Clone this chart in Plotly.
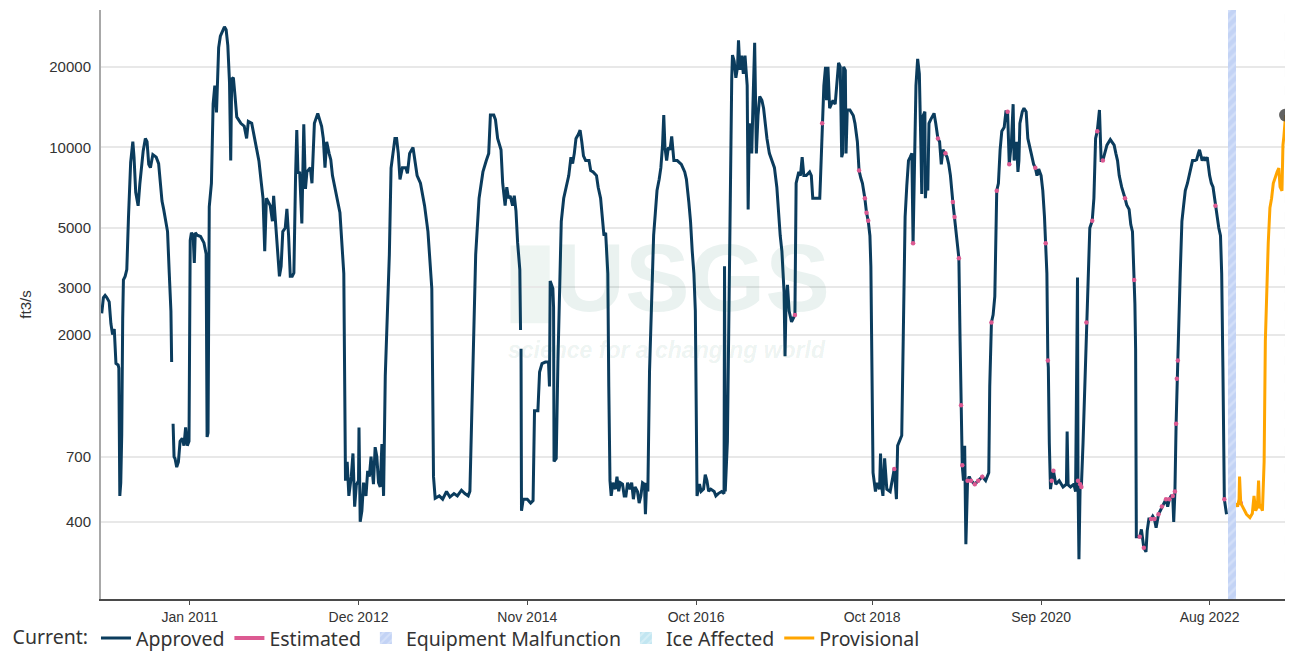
import plotly.graph_objects as go
import pandas as pd

# ---------------- data (ft3/s) ----------------
approved_2010 = [
    ("2010-01-01", 2400), ("2010-01-08", 2750), ("2010-01-15", 2800), ("2010-01-22", 2750),
    ("2010-02-01", 2650), ("2010-02-08", 2200), ("2010-02-15", 2000), ("2010-02-22", 2100),
    ("2010-03-01", 1560), ("2010-03-10", 1540), ("2010-03-13", 1500), ("2010-03-17", 500),
    ("2010-03-21", 560), ("2010-03-25", 850), ("2010-03-29", 2300), ("2010-04-01", 3200),
    ("2010-04-08", 3300), ("2010-04-15", 3500), ("2010-04-22", 5500), ("2010-05-01", 8800),
    ("2010-05-10", 10500), ("2010-05-15", 9200), ("2010-05-22", 6800), ("2010-06-01", 6050),
    ("2010-06-08", 7300), ("2010-06-15", 8650), ("2010-06-22", 9700), ("2010-07-01", 10800),
    ("2010-07-08", 10500), ("2010-07-15", 8650), ("2010-07-22", 8400), ("2010-08-01", 9400),
    ("2010-08-15", 9200), ("2010-08-25", 8700), ("2010-09-01", 7350), ("2010-09-08", 6300),
    ("2010-09-15", 5870), ("2010-09-22", 5400), ("2010-10-01", 4850), ("2010-10-08", 3400),
    ("2010-10-15", 2450), ("2010-10-18", 1580), ("2010-10-21", None), ("2010-10-24", 930),
    ("2010-10-28", 700), ("2010-11-01", 690), ("2010-11-08", 640), ("2010-11-15", 670),
    ("2010-11-22", 800), ("2010-12-01", 820), ("2010-12-08", 770), ("2010-12-15", 900),
    ("2010-12-22", 770), ("2010-12-29", 800),
]
approved_2011 = [
    ("2011-01-03", 4500), ("2011-01-08", 4800), ("2011-01-15", 4700), ("2011-01-20", 3700),
    ("2011-01-24", 4800), ("2011-02-01", 4700), ("2011-02-15", 4650), ("2011-03-01", 4400),
    ("2011-03-10", 4000), ("2011-03-14", 830), ("2011-03-18", 860), ("2011-03-23", 6000),
    ("2011-04-01", 7350), ("2011-04-08", 14500), ("2011-04-15", 17000), ("2011-04-22", 13500),
    ("2011-05-01", 23600), ("2011-05-08", 26000), ("2011-05-15", 26800), ("2011-05-25", 28200),
    ("2011-06-01", 27500), ("2011-06-08", 24000), ("2011-06-15", 17500), ("2011-06-20", 8930),
    ("2011-06-24", 18000), ("2011-07-01", 18200), ("2011-07-08", 15500), ("2011-07-15", 13000),
    ("2011-08-01", 12300), ("2011-08-15", 12000), ("2011-08-25", 10800), ("2011-09-01", 12500),
    ("2011-09-15", 12300), ("2011-10-01", 10500), ("2011-10-15", 8900), ("2011-10-25", 7350),
    ("2011-11-01", 6460), ("2011-11-08", 4100), ("2011-11-15", 6460), ("2011-12-01", 6060),
    ("2011-12-10", 5300), ("2011-12-15", 6600), ("2011-12-22", 5300),
]
approved_2012 = [
    ("2012-01-01", 3980), ("2012-01-08", 3300), ("2012-01-15", 3600), ("2012-01-22", 4850),
    ("2012-02-01", 5000), ("2012-02-08", 5900), ("2012-02-15", 4680), ("2012-02-22", 3300),
    ("2012-03-01", 3300), ("2012-03-08", 3400), ("2012-03-15", 7850), ("2012-03-20", 11600),
    ("2012-03-25", 8000), ("2012-04-01", 8100), ("2012-04-10", 5200), ("2012-04-18", 12200),
    ("2012-04-25", 7000), ("2012-05-01", 8100), ("2012-05-15", 8400), ("2012-05-22", 7350),
    ("2012-06-01", 12300), ("2012-06-15", 13400), ("2012-07-01", 12000), ("2012-07-08", 10800),
    ("2012-07-15", 8400), ("2012-07-22", 10500), ("2012-08-01", 9500), ("2012-08-08", 9000),
    ("2012-08-15", 7850), ("2012-09-01", 6460), ("2012-09-15", 5700), ("2012-10-01", 3380),
    ("2012-10-08", 570), ("2012-10-15", 670), ("2012-10-22", 500), ("2012-11-01", 590),
    ("2012-11-08", 720), ("2012-11-15", 456), ("2012-11-22", 550), ("2012-12-01", 570),
    ("2012-12-03", 900), ("2012-12-08", 400), ("2012-12-15", 440), ("2012-12-22", 560),
]
approved_2013 = [
    ("2013-01-01", 500), ("2013-01-08", 620), ("2013-01-15", 590), ("2013-01-22", 700),
    ("2013-02-01", 553), ("2013-02-08", 760), ("2013-02-15", 700), ("2013-02-22", 560),
    ("2013-03-01", 540), ("2013-03-08", 780), ("2013-03-15", 500), ("2013-03-22", 1400),
    ("2013-04-01", 2450), ("2013-04-08", 4000), ("2013-04-15", 8370), ("2013-04-22", 9200),
    ("2013-05-01", 10800), ("2013-05-08", 10800), ("2013-05-15", 9500), ("2013-05-22", 7600),
    ("2013-06-01", 8400), ("2013-06-15", 8400), ("2013-06-22", 8000), ("2013-07-01", 9500),
    ("2013-07-15", 10000), ("2013-08-01", 7850), ("2013-08-15", 7350), ("2013-09-01", 6060),
    ("2013-09-15", 4850), ("2013-10-01", 2970), ("2013-10-04", 1280), ("2013-10-08", 590),
    ("2013-10-15", 490), ("2013-11-01", 500), ("2013-11-15", 486), ("2013-12-01", 519),
    ("2013-12-15", 495),
]
approved_2014 = [
    ("2014-01-01", 510), ("2014-01-15", 500), ("2014-02-01", 525), ("2014-02-15", 510),
    ("2014-03-01", 500), ("2014-03-08", 520), ("2014-03-15", 930), ("2014-03-22", 1850),
    ("2014-04-01", 3980), ("2014-04-15", 6460), ("2014-05-01", 8100), ("2014-05-15", 8930),
    ("2014-05-25", 9500), ("2014-06-01", 13200), ("2014-06-15", 13200), ("2014-06-22", 12700),
    ("2014-07-01", 10800), ("2014-07-15", 9800), ("2014-07-22", 7350), ("2014-08-01", 6060),
    ("2014-08-08", 7100), ("2014-08-15", 6460), ("2014-08-22", 6600), ("2014-09-01", 6060),
    ("2014-09-08", 6600), ("2014-09-15", 5800), ("2014-09-22", 4400), ("2014-10-01", 3500),
    ("2014-10-04", 2080), ("2014-10-05", None), ("2014-10-06", 1770), ("2014-10-08", 440),
    ("2014-10-15", 486), ("2014-11-01", 486), ("2014-11-15", 470), ("2014-11-25", 480),
    ("2014-12-01", 1040), ("2014-12-15", 1040), ("2014-12-22", 1450),
]
approved_2015 = [
    ("2015-01-01", 1560), ("2015-01-15", 1580), ("2015-01-28", 1580), ("2015-02-01", 1280),
    ("2015-02-04", 3170), ("2015-02-15", 2970), ("2015-02-18", 2530), ("2015-02-20", 672),
    ("2015-03-01", 690), ("2015-03-08", 1580), ("2015-03-15", 3380), ("2015-03-22", 5300),
    ("2015-04-01", 6460), ("2015-04-15", 7350), ("2015-04-22", 7850), ("2015-05-01", 9200),
    ("2015-05-08", 8700), ("2015-05-15", 9500), ("2015-05-22", 10800), ("2015-06-01", 11200),
    ("2015-06-08", 11600), ("2015-06-15", 10500), ("2015-06-22", 9300), ("2015-07-01", 8930),
    ("2015-07-15", 8930), ("2015-07-22", 8200), ("2015-08-01", 8100), ("2015-08-15", 7850),
    ("2015-08-22", 7100), ("2015-09-01", 6460), ("2015-09-15", 4680), ("2015-09-22", 4800),
    ("2015-10-01", 3380), ("2015-10-05", 1280), ("2015-10-10", 570), ("2015-10-15", 500),
    ("2015-10-22", 560), ("2015-11-01", 530), ("2015-11-08", 590), ("2015-11-15", 520),
    ("2015-11-22", 560), ("2015-12-01", 553), ("2015-12-08", 500), ("2015-12-15", 500),
    ("2015-12-22", 560),
]
approved_2016 = [
    ("2016-01-01", 530), ("2016-01-08", 560), ("2016-01-15", 486), ("2016-01-22", 540),
    ("2016-02-01", 519), ("2016-02-08", 470), ("2016-02-15", 500), ("2016-02-22", 560),
    ("2016-03-01", 553), ("2016-03-05", 427), ("2016-03-10", 560), ("2016-03-15", 519),
    ("2016-03-22", 1460), ("2016-04-01", 2700), ("2016-04-08", 4700), ("2016-04-15", 5680),
    ("2016-04-22", 6900), ("2016-05-01", 7600), ("2016-05-08", 8400), ("2016-05-15", 10200),
    ("2016-05-20", 13200), ("2016-05-25", 10000), ("2016-06-01", 8930), ("2016-06-08", 10000),
    ("2016-06-15", 9800), ("2016-06-22", 11000), ("2016-07-01", 8930), ("2016-07-15", 8930),
    ("2016-08-01", 8650), ("2016-08-15", 8100), ("2016-08-22", 7600), ("2016-09-01", 6250),
    ("2016-09-08", 5300), ("2016-09-15", 4110), ("2016-09-22", 3380), ("2016-09-28", 2450),
    ("2016-10-01", 930), ("2016-10-05", 500), ("2016-10-15", 553), ("2016-10-22", 520),
    ("2016-11-01", 530), ("2016-11-08", 600), ("2016-11-15", 570), ("2016-11-22", 520),
    ("2016-12-01", 530), ("2016-12-15", 519), ("2016-12-22", 500),
]
approved_2017 = [
    ("2017-01-01", 510), ("2017-01-15", 519), ("2017-01-25", 510), ("2017-01-27", 3600),
    ("2017-01-30", 519), ("2017-02-08", 800), ("2017-02-15", 2780), ("2017-02-18", 5320),
    ("2017-02-22", 12300), ("2017-02-26", 18200), ("2017-03-01", 22100), ("2017-03-08", 21000),
    ("2017-03-15", 18200), ("2017-03-22", 20000), ("2017-03-26", 25100), ("2017-04-01", 19500),
    ("2017-04-08", 22000), ("2017-04-15", 18800), ("2017-04-22", 22000), ("2017-05-01", 17000),
    ("2017-05-05", 5870), ("2017-05-10", 12300), ("2017-05-15", 11200), ("2017-05-20", 9500),
    ("2017-05-25", 14500), ("2017-06-01", 24600), ("2017-06-08", 9500), ("2017-06-15", 13200),
    ("2017-06-22", 15500), ("2017-07-01", 15000), ("2017-07-08", 14000), ("2017-07-15", 12000),
    ("2017-07-22", 10800), ("2017-08-01", 9500), ("2017-08-15", 8650), ("2017-08-22", 8400),
    ("2017-09-01", 7100), ("2017-09-08", 5700), ("2017-09-15", 4680), ("2017-09-22", 4100),
    ("2017-10-01", 2880), ("2017-10-05", 1660), ("2017-10-09", 2610), ("2017-10-15", 3070),
    ("2017-10-22", 2450), ("2017-11-01", 2230), ("2017-11-08", 2290), ("2017-11-15", 2370),
    ("2017-11-20", 7350), ("2017-12-01", 8100), ("2017-12-08", 7850), ("2017-12-15", 9200),
    ("2017-12-22", 7850),
]
approved_2018 = [
    ("2018-01-01", 7850), ("2018-01-15", 8100), ("2018-01-22", 7850), ("2018-01-28", 6460),
    ("2018-02-01", 6460), ("2018-02-15", 6460), ("2018-02-26", 6460), ("2018-03-01", 7600),
    ("2018-03-08", 12300), ("2018-03-15", 17000), ("2018-03-22", 20000), ("2018-03-26", 15000),
    ("2018-04-01", 20000), ("2018-04-05", 17000), ("2018-04-08", 14000), ("2018-04-15", 14500),
    ("2018-04-22", 15000), ("2018-05-01", 14500), ("2018-05-08", 17000), ("2018-05-15", 20700),
    ("2018-05-22", 20000), ("2018-05-25", 12300), ("2018-05-28", 9200), ("2018-06-01", 9500),
    ("2018-06-05", 20000), ("2018-06-12", 19400), ("2018-06-15", 9500), ("2018-06-20", 13800),
    ("2018-07-01", 13800), ("2018-07-15", 13160), ("2018-07-22", 12300), ("2018-08-01", 10500),
    ("2018-08-08", 8200), ("2018-08-15", 7700), ("2018-08-22", 7350), ("2018-09-01", 6460),
    ("2018-09-08", 5700), ("2018-09-15", 5320), ("2018-09-22", 4680), ("2018-09-26", 3600),
    ("2018-10-01", 930), ("2018-10-05", 610), ("2018-10-15", 519), ("2018-10-22", 560),
    ("2018-11-01", 530), ("2018-11-05", 720), ("2018-11-10", 540), ("2018-11-15", 500),
    ("2018-11-22", 690), ("2018-12-01", 530), ("2018-12-15", 519), ("2018-12-22", 560),
]
approved_2019 = [
    ("2019-01-01", 630), ("2019-01-10", 486), ("2019-01-15", 770), ("2019-02-01", 840),
    ("2019-02-10", 2450), ("2019-02-15", 5500), ("2019-02-22", 7200), ("2019-03-01", 8930),
    ("2019-03-08", 9200), ("2019-03-15", 9500), ("2019-03-20", 4390), ("2019-03-24", 7600),
    ("2019-04-01", 17000), ("2019-04-08", 21400), ("2019-04-15", 18800), ("2019-04-22", 9500),
    ("2019-04-25", 6700), ("2019-04-29", 13000), ("2019-05-08", 13600), ("2019-05-10", 6460),
    ("2019-05-15", 7600), ("2019-05-20", 6900), ("2019-05-25", 12300), ("2019-06-01", 12700),
    ("2019-06-15", 13400), ("2019-06-22", 12300), ("2019-07-01", 10800), ("2019-07-08", 10500),
    ("2019-07-15", 8650), ("2019-07-22", 9800), ("2019-08-01", 9500), ("2019-08-08", 9200),
    ("2019-08-15", 8650), ("2019-08-22", 7850), ("2019-09-01", 6250), ("2019-09-08", 5500),
    ("2019-09-15", 4850), ("2019-09-22", 4200), ("2019-09-26", 3860), ("2019-10-01", 1890),
    ("2019-10-05", 1090), ("2019-10-10", 650), ("2019-10-15", 570), ("2019-10-20", 770),
    ("2019-10-25", 330), ("2019-11-01", 570), ("2019-11-08", 590), ("2019-11-15", 570),
    ("2019-12-01", 553), ("2019-12-15", 570),
]
approved_2020 = [
    ("2020-01-01", 590), ("2020-01-15", 570), ("2020-01-28", 610), ("2020-02-01", 1280),
    ("2020-02-08", 2220), ("2020-02-15", 2370), ("2020-02-22", 2780), ("2020-03-01", 6890),
    ("2020-03-08", 7350), ("2020-03-15", 9800), ("2020-03-22", 11500), ("2020-04-01", 11900),
    ("2020-04-08", 13600), ("2020-04-15", 13600), ("2020-04-22", 8650), ("2020-05-01", 10500),
    ("2020-05-08", 14500), ("2020-05-12", 8930), ("2020-05-15", 9500), ("2020-05-22", 10500),
    ("2020-05-28", 8100), ("2020-06-01", 8930), ("2020-06-05", 12300), ("2020-06-15", 13600),
    ("2020-06-22", 14000), ("2020-07-01", 13600), ("2020-07-08", 10800), ("2020-07-15", 10200),
    ("2020-07-22", 9500), ("2020-08-01", 8650), ("2020-08-08", 8400), ("2020-08-15", 7850),
    ("2020-08-22", 8300), ("2020-09-01", 7850), ("2020-09-08", 6900), ("2020-09-15", 5500),
    ("2020-09-20", 4390), ("2020-09-25", 3380), ("2020-09-29", 1600), ("2020-10-01", 1510),
    ("2020-10-05", 790), ("2020-10-10", 530), ("2020-10-15", 570), ("2020-10-22", 620),
    ("2020-11-01", 553), ("2020-11-15", 570), ("2020-12-01", 540), ("2020-12-15", 553),
    ("2020-12-18", 870), ("2020-12-22", 550),
]
approved_2021 = [
    ("2021-01-01", 540), ("2021-01-15", 553), ("2021-01-22", 519), ("2021-01-30", 3270),
    ("2021-02-01", 570), ("2021-02-05", 290), ("2021-02-10", 553), ("2021-02-15", 540),
    ("2021-02-22", 790), ("2021-03-01", 1280), ("2021-03-08", 2220), ("2021-03-15", 3380),
    ("2021-03-22", 5000), ("2021-04-01", 5320), ("2021-04-08", 6460), ("2021-04-15", 10800),
    ("2021-04-22", 11500), ("2021-05-01", 13800), ("2021-05-08", 8930), ("2021-05-15", 8930),
    ("2021-05-22", 9500), ("2021-06-01", 10200), ("2021-06-15", 10700), ("2021-06-22", 10500),
    ("2021-07-01", 10200), ("2021-07-08", 9500), ("2021-07-15", 8930), ("2021-07-22", 7850),
    ("2021-08-01", 7120), ("2021-08-15", 6460), ("2021-08-22", 6100), ("2021-09-01", 5870),
    ("2021-09-08", 5150), ("2021-09-15", 4850), ("2021-09-22", 3200), ("2021-09-25", 2610),
    ("2021-09-28", 1770), ("2021-10-01", 352), ("2021-10-15", 352), ("2021-10-22", 375),
    ("2021-11-01", 320), ("2021-11-10", 309), ("2021-11-15", 370), ("2021-11-22", 410),
    ("2021-12-01", 410), ("2021-12-08", 420), ("2021-12-15", 410), ("2021-12-22", 380),
]
approved_2022 = [
    ("2022-01-01", 427), ("2022-01-08", 440), ("2022-01-15", 456), ("2022-01-22", 470),
    ("2022-02-01", 486), ("2022-02-08", 456), ("2022-02-15", 486), ("2022-02-22", 500),
    ("2022-03-01", 500), ("2022-03-05", 400), ("2022-03-10", 519), ("2022-03-15", 930),
    ("2022-03-18", 1370), ("2022-03-22", 1600), ("2022-04-01", 3380), ("2022-04-08", 5300),
    ("2022-04-15", 6060), ("2022-04-22", 6900), ("2022-05-01", 7350), ("2022-05-08", 7850),
    ("2022-05-15", 8370), ("2022-05-22", 8930), ("2022-06-01", 8930), ("2022-06-08", 9000),
    ("2022-06-15", 9500), ("2022-06-20", 9800), ("2022-07-01", 8930), ("2022-07-08", 9200),
    ("2022-07-15", 8930), ("2022-07-22", 9200), ("2022-08-01", 7850), ("2022-08-08", 7350),
    ("2022-08-15", 7120), ("2022-08-25", 6060), ("2022-09-01", 5680), ("2022-09-08", 5000),
    ("2022-09-15", 4680), ("2022-09-20", 3380), ("2022-09-25", 1510), ("2022-10-01", 486),
    ("2022-10-10", 427),
]
provisional_flow = [
    ("2022-11-18", 470), ("2022-11-25", 456), ("2022-12-01", 486), ("2022-12-03", 590),
    ("2022-12-08", 470), ("2022-12-15", 456), ("2022-12-22", 440), ("2023-01-01", 427),
    ("2023-01-15", 415), ("2023-01-25", 430), ("2023-02-01", 500), ("2023-02-08", 440),
    ("2023-02-15", 456), ("2023-02-20", 570), ("2023-02-24", 450), ("2023-03-01", 456),
    ("2023-03-08", 440), ("2023-03-15", 672), ("2023-03-20", 1890), ("2023-03-23", 2290),
    ("2023-03-27", 3380), ("2023-04-01", 4390), ("2023-04-08", 5950), ("2023-04-15", 6460),
    ("2023-04-22", 7350), ("2023-05-01", 7850), ("2023-05-08", 8100), ("2023-05-15", 8370),
    ("2023-05-20", 7120), ("2023-05-28", 6890), ("2023-06-01", 10200), ("2023-06-05", 11000),
    ("2023-06-08", 12300), ("2023-06-12", 13200),
]
estimated_dates = [
    "2017-11-15", "2018-03-08", "2018-08-08", "2018-09-01", "2018-09-08", "2018-09-15",
    "2019-01-01", "2019-03-20", "2019-07-01", "2019-08-01", "2019-09-01", "2019-09-08",
    "2019-09-26", "2019-10-05", "2019-10-10", "2019-11-01", "2019-11-15", "2019-12-01",
    "2019-12-15", "2020-01-01", "2020-02-08", "2020-03-01", "2020-04-15", "2020-04-22",
    "2020-08-08", "2020-09-20", "2020-09-29", "2020-10-15", "2020-10-22", "2021-02-01",
    "2021-02-10", "2021-02-15", "2021-03-08", "2021-04-01", "2021-04-22", "2021-05-15",
    "2021-08-15", "2021-09-22", "2021-10-15", "2021-11-01", "2021-12-01", "2021-12-15",
    "2022-01-01", "2022-01-15", "2022-02-01", "2022-02-15", "2022-03-01", "2022-03-10",
    "2022-03-15", "2022-03-18", "2022-03-22", "2022-08-25", "2022-10-01", "2022-12-08",
]
malfunction_periods = [("2022-10-15", "2022-11-19")]
tick_dates = ["2011-01-01", "2012-12-01", "2014-11-01", "2016-10-01",
              "2018-10-01", "2020-09-01", "2022-08-01"]
tick_labels = ["Jan 2011", "Dec 2012", "Nov 2014", "Oct 2016",
               "Oct 2018", "Sep 2020", "Aug 2022"]
y_ticks = [400, 700, 2000, 3000, 5000, 10000, 20000]

# ---------------- assemble ----------------
approved = (approved_2010 + approved_2011 + approved_2012 + approved_2013 + approved_2014
            + approved_2015 + approved_2016 + approved_2017 + approved_2018 + approved_2019
            + approved_2020 + approved_2021 + approved_2022)
a_x = [d for d, v in approved]
a_y = [v for d, v in approved]
p_x = [d for d, v in provisional_flow]
p_y = [v for d, v in provisional_flow]
lookup = dict(approved + provisional_flow)
e_x = [d for d in estimated_dates if lookup.get(d) is not None]
e_y = [lookup[d] for d in e_x]

NAVY = "#0b3c5d"
PINK = "#dc5a92"
ORANGE = "#ffa500"
MAL_BG = "#c3d3f5"
ICE_BG = "#c2e6f1"
TXT = "#333333"

fig = go.Figure()

# equipment malfunction band(s)
mal_x, mal_w = [], []
for s, e in malfunction_periods:
    ts, te = pd.Timestamp(s), pd.Timestamp(e)
    mal_x.append(ts + (te - ts) / 2)
    mal_w.append((te - ts).total_seconds() * 1000)
fig.add_trace(go.Bar(
    x=mal_x, y=[1] * len(mal_x), base=[0] * len(mal_x), width=mal_w, yaxis="y2",
    name="Equipment Malfunction", legendrank=3, hoverinfo="skip",
    marker=dict(color=MAL_BG, line=dict(width=0),
                pattern=dict(shape="/", bgcolor=MAL_BG, fgcolor="#e3ebfc", size=7, solidity=0.35)),
))
fig.add_trace(go.Bar(
    x=[None], y=[None], yaxis="y2", name="Ice Affected", legendrank=4, hoverinfo="skip",
    marker=dict(color=ICE_BG, line=dict(width=0),
                pattern=dict(shape="/", bgcolor=ICE_BG, fgcolor="#e6f5fa", size=7, solidity=0.35)),
))

fig.add_trace(go.Scatter(
    x=a_x, y=a_y, mode="lines", name="Approved", legendrank=1, connectgaps=False,
    line=dict(color=NAVY, width=3), hoverinfo="skip",
))
fig.add_trace(go.Scatter(
    x=e_x, y=e_y, mode="markers", showlegend=False, hoverinfo="skip",
    marker=dict(color=PINK, size=4.5, line=dict(width=0)),
))
fig.add_trace(go.Scatter(
    x=[None], y=[None], mode="lines", name="Estimated", legendrank=2,
    line=dict(color=PINK, width=4),
))
fig.add_trace(go.Scatter(
    x=p_x, y=p_y, mode="lines", name="Provisional", legendrank=5,
    line=dict(color=ORANGE, width=3), hoverinfo="skip",
))
fig.add_trace(go.Scatter(
    x=[p_x[-1]], y=[p_y[-1]], mode="markers", showlegend=False, hoverinfo="skip",
    marker=dict(color="rgba(70,70,70,0.85)", size=13),
))

# current-time dashed line
fig.add_shape(type="line", xref="x", yref="paper", x0=p_x[-1], x1=p_x[-1], y0=0, y1=1,
              line=dict(color="#6e6e6e", width=1.2, dash="dash"))

# USGS watermark
fig.add_shape(type="rect", xref="paper", yref="paper", x0=0.345, x1=0.378, y0=0.468, y1=0.600,
              fillcolor="rgba(13,107,77,0.07)", line=dict(width=0), layer="below")
fig.add_annotation(text="<b>USGS</b>", xref="paper", yref="paper", x=0.498, y=0.545,
                   showarrow=False, font=dict(family="Liberation Sans", size=97,
                                               color="rgba(13,107,77,0.085)"))
fig.add_annotation(text="<b><i>science for a changing world</i></b>", xref="paper", yref="paper",
                   x=0.477, y=0.422, showarrow=False,
                   font=dict(family="Liberation Sans", size=23, color="rgba(13,107,77,0.085)"))

# the page body adds an 8px offset, so the figure is 8px smaller on each axis
fig.update_layout(
    width=1285, height=643,
    margin=dict(l=93, r=5, t=2, b=52, autoexpand=False),
    plot_bgcolor="white", paper_bgcolor="white",
    hovermode=False, bargap=0,
    font=dict(family="Liberation Sans, Arial", size=15, color=TXT),
    xaxis=dict(
        type="date", range=["2009-12-29", "2023-06-22"],
        tickvals=tick_dates, ticktext=tick_labels,
        showgrid=False, showline=True, linecolor="#4a4a4a", linewidth=2,
        ticks="outside", ticklen=4, tickcolor="#4a4a4a", tickwidth=1,
        tickfont=dict(family="Liberation Sans, Arial", size=14, color=TXT),
        automargin=False, zeroline=False,
    ),
    yaxis=dict(
        type="log", range=[2.314, 4.513],
        tickvals=y_ticks, ticktext=[str(v) for v in y_ticks],
        showgrid=True, gridcolor="#e8e8e8", gridwidth=1.5,
        showline=True, linecolor="#a8a8a8", linewidth=2, ticks="",
        ticklabelstandoff=5,
        tickfont=dict(family="Liberation Sans, Arial", size=15, color=TXT),
        title=dict(text="ft3/s", standoff=14,
                   font=dict(family="Liberation Sans, Arial", size=15, color=TXT)),
        automargin=False, zeroline=False,
    ),
    yaxis2=dict(overlaying="y", range=[0, 1], visible=False, fixedrange=True),
    showlegend=True,
    legend=dict(
        orientation="h", xref="container", yref="container",
        x=0.002, y=0.05, xanchor="left", yanchor="top",
        font=dict(family="Noto Sans", size=19.5, color=TXT),
        title=dict(text="Current:", side="left",
                   font=dict(family="Noto Sans", size=19.5, color=TXT)),
        bgcolor="rgba(0,0,0,0)", tracegroupgap=0,
    ),
)

fig.write_html("out.html")
